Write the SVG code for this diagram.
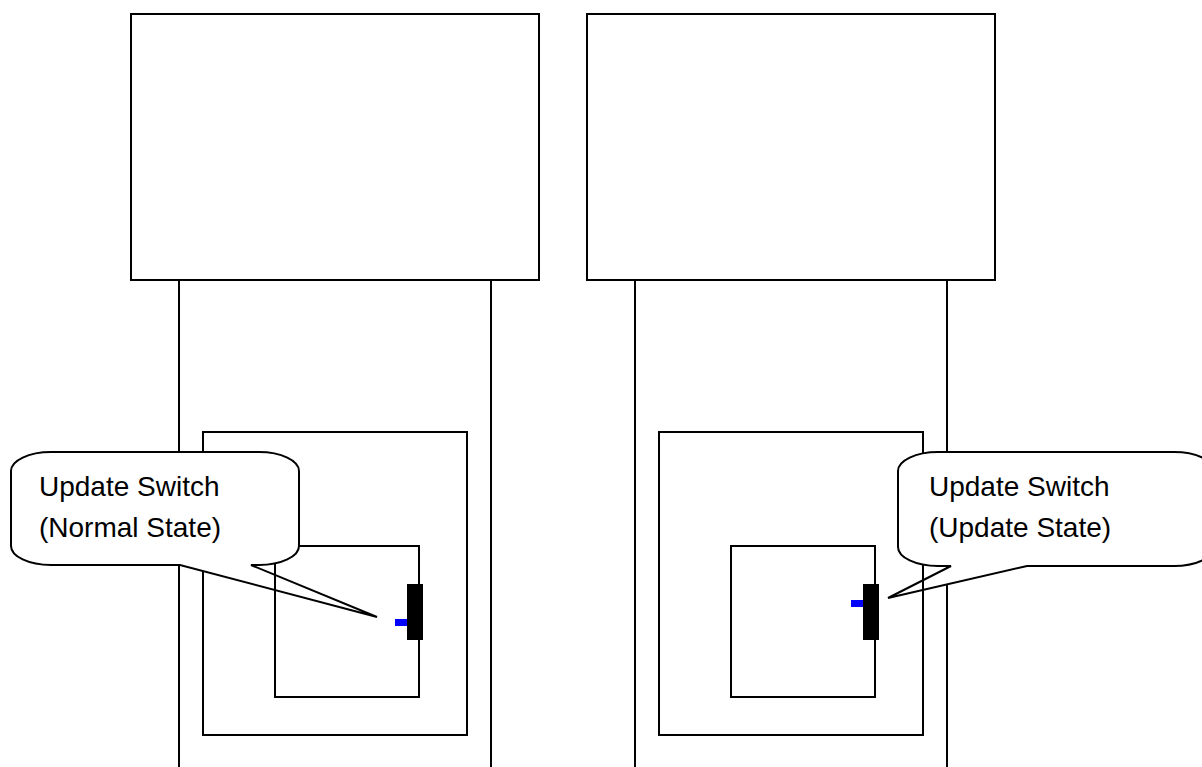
<svg xmlns="http://www.w3.org/2000/svg" width="1202" height="767" viewBox="0 0 1202 767">
<style>
.ln{fill:none;stroke:#000;stroke-width:2}
.bx{fill:#fff;stroke:#000;stroke-width:2}
.sw{fill:#000}
.kn{fill:#0000ff}
.wf{fill:#fff;stroke:none}
.tx{font-family:"Liberation Sans",Arial,sans-serif;font-size:28px;fill:#000}
</style>
<rect width="1202" height="767" fill="#fff"/>
<!-- Left device -->
<g id="left-device">
<line class="ln" x1="179" y1="280" x2="179" y2="767"/>
<line class="ln" x1="491" y1="280" x2="491" y2="767"/>
<rect id="left-top-box" class="bx" x="131" y="14" width="408" height="266"/>
<rect id="left-outer-box" class="ln" x="203" y="432" width="264" height="303"/>
</g>
<path id="left-pointer-fill" class="wf" d="M180,565 L377,617 L251,565 Z"/>
<g id="left-inner">
<rect id="left-inner-box" class="ln" x="275" y="546" width="144" height="151"/>
<rect id="left-switch" class="sw" x="407" y="584" width="16" height="56"/>
<rect id="left-knob" class="kn" x="395" y="619" width="12" height="7"/>
</g>
<g id="left-callout">
<path class="wf" d="M51,565 A40,19 0 0 1 11,546 L11,471 A40,19 0 0 1 51,452 L259,452 A40,19 0 0 1 299,471 L299,546 A40,19 0 0 1 259,565 Z"/>
<path class="ln" stroke-linejoin="miter" d="M180,565 L51,565 A40,19 0 0 1 11,546 L11,471 A40,19 0 0 1 51,452 L259,452 A40,19 0 0 1 299,471 L299,546 A40,19 0 0 1 259,565 L251,565 L377,617 Z"/>
<text class="tx" x="39" y="496">Update Switch</text>
<text class="tx" x="39" y="537">(Normal State)</text>
</g>
<!-- Right device -->
<g id="right-device">
<line class="ln" x1="635" y1="280" x2="635" y2="767"/>
<line class="ln" x1="947" y1="280" x2="947" y2="767"/>
<rect id="right-top-box" class="bx" x="587" y="14" width="408" height="266"/>
</g>
<path id="right-pointer-fill" class="wf" d="M951,566 L888,598 L1027,566 Z"/>
<g id="right-inner">
<rect id="right-outer-box" class="ln" x="659" y="432" width="264" height="303"/>
<rect id="right-inner-box" class="ln" x="731" y="546" width="144" height="151"/>
<rect id="right-switch" class="sw" x="863" y="584" width="16" height="56"/>
<rect id="right-knob" class="kn" x="851" y="600" width="12" height="7"/>
</g>
<g id="right-callout">
<path class="wf" d="M938,566 A40,19 0 0 1 898,547 L898,471 A40,19 0 0 1 938,452 L1174,452 A40,19 0 0 1 1214,471 L1214,547 A40,19 0 0 1 1174,566 Z"/>
<path class="ln" d="M951,566 L938,566 A40,19 0 0 1 898,547 L898,471 A40,19 0 0 1 938,452 L1174,452 A40,19 0 0 1 1214,471 L1214,547 A40,19 0 0 1 1174,566 L1027,566 L888,598 Z"/>
<text class="tx" x="929" y="496">Update Switch</text>
<text class="tx" x="929" y="537">(Update State)</text>
</g>
<g id="connectors"/>
</svg>
